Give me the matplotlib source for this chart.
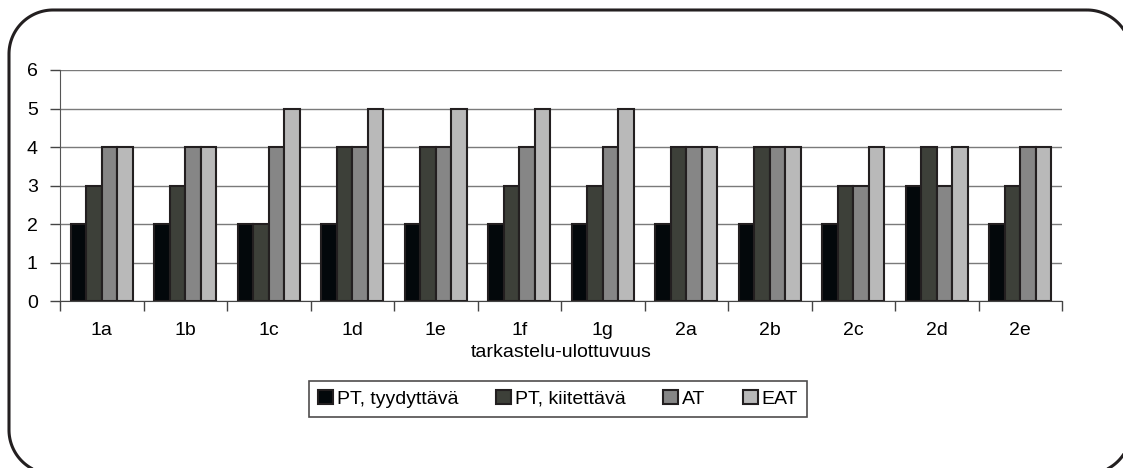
import numpy as np
import matplotlib.pyplot as plt
from matplotlib.patches import Polygon

plt.rcParams['font.family'] = ['Liberation Sans', 'DejaVu Sans']

# data
categories = ['1a', '1b', '1c', '1d', '1e', '1f', '1g', '2a', '2b', '2c', '2d', '2e']
pt_tyydyttava = [2, 2, 2, 2, 2, 2, 2, 2, 2, 2, 3, 2]
pt_kiitettava = [3, 3, 2, 4, 4, 3, 3, 4, 4, 3, 4, 3]
at_values = [4, 4, 4, 4, 4, 4, 4, 4, 4, 3, 3, 4]
eat_values = [4, 4, 5, 5, 5, 5, 5, 4, 4, 4, 4, 4]
series_names = ['PT, tyydyttävä', 'PT, kiitettävä', 'AT', 'EAT']
colors = ['#03080b', '#3d4039', '#868686', '#b9b9b9']

W, H = 1123, 468
fig = plt.figure(figsize=(W / 100, H / 100), dpi=100)

# rounded frame round the whole chart, in pixel coords (y down)
bg = fig.add_axes([0, 0, 1, 1])
bg.set_xlim(0, W)
bg.set_ylim(H, 0)
bg.axis('off')
fl, ft, fr, fb, rad = 9, 10, 1131, 474, 44
corners = [(fr - rad, ft + rad, -90, 0), (fr - rad, fb - rad, 0, 90),
           (fl + rad, fb - rad, 90, 180), (fl + rad, ft + rad, 180, 270)]
pts = []
for cx, cy, a0, a1 in corners:
    t = np.radians(np.linspace(a0, a1, 40))
    pts.extend(zip(cx + rad * np.cos(t), cy + rad * np.sin(t)))
bg.add_patch(Polygon(pts, closed=True, fill=False, edgecolor='#231f20',
                     linewidth=2.2, joinstyle='round', clip_on=False))

# plot area (pixel positions from the reference)
left, right, top, bottom = 60, 1062, 70, 301
ax = fig.add_axes([left / W, 1 - bottom / H, (right - left) / W, (bottom - top) / H])

x = np.arange(len(categories))
width = 0.186
all_series = [pt_tyydyttava, pt_kiitettava, at_values, eat_values]
for i, (vals, name, c) in enumerate(zip(all_series, series_names, colors)):
    ax.bar(x + (i - 1.5) * width, vals, width, color=c, edgecolor='#231f20',
           linewidth=1.5, label=name, zorder=3)

ax.set_xlim(-0.5, len(categories) - 0.5)
ax.set_ylim(0, 6)
ax.set_yticks(range(0, 7))
ax.yaxis.grid(True, color='#7a7a7a', linewidth=1)
ax.set_axisbelow(True)

ax.set_xticks(x)
ax.set_xticklabels(categories, fontsize=14)
ax.set_xticks(np.arange(-0.5, len(categories), 1), minor=True)
ax.tick_params(axis='x', which='major', length=0, pad=15)
ax.tick_params(axis='x', which='minor', length=7, width=1, color='#444444', direction='out')
ax.tick_params(axis='y', length=7, width=1, color='#444444', labelsize=14, pad=9)

for s in ['top', 'right']:
    ax.spines[s].set_visible(False)
ax.spines['left'].set_color('#555555')
ax.spines['bottom'].set_color('#444444')

ax.set_xlabel('tarkastelu-ulottuvuus', fontsize=14, labelpad=4)

leg = fig.legend(loc='center', bbox_to_anchor=(558 / W, 1 - 399 / H), ncol=4,
                 frameon=True, fancybox=False, fontsize=14, handlelength=0.75,
                 handleheight=0.75, handletextpad=0.2, columnspacing=1.95,
                 borderpad=0.45, borderaxespad=0)
leg.get_frame().set_edgecolor('#231f20')
leg.get_frame().set_linewidth(1.2)

fig.savefig('out.png', dpi=100)
